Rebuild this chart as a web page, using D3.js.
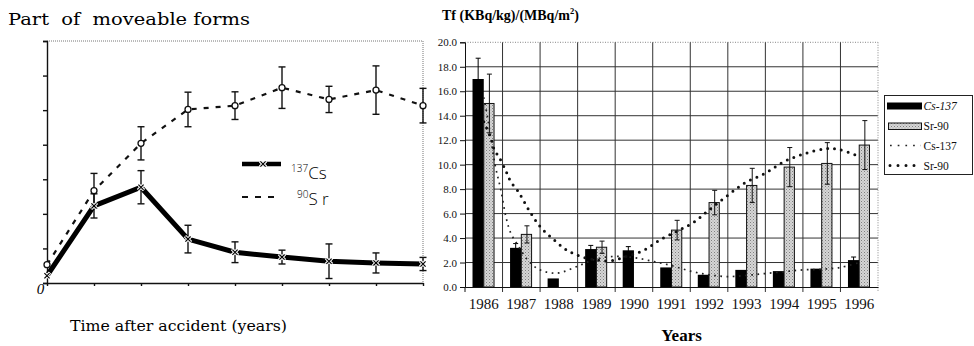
<!DOCTYPE html>
<html><head><meta charset="utf-8">
<script src="https://cdn.jsdelivr.net/npm/d3@7"></script>
<style>
html,body{margin:0;padding:0;background:#fff;}
svg{display:block;}
text{white-space:pre;}
</style></head>
<body>
<svg id="chart" width="974" height="346"></svg>
<script>
// ---------- LEFT PANEL DATA ----------
const leftTimes   = [0, 1, 2, 3, 4, 5, 6, 7, 8];
const leftCs      = [2.1, 22.3, 27.7, 12.7, 8.9, 7.5, 6.3, 5.8, 5.5];
const leftCsErr   = [0, 3.5, 4.8, 4.0, 3.0, 2.0, 5.0, 2.9, 1.9];
const leftSr      = [5.3, 26.7, 40.4, 50.2, 51.3, 56.5, 53.1, 55.8, 51.3];
const leftSrErr   = [0, 5.0, 4.8, 5.0, 4.0, 6.0, 3.8, 7.0, 5.0];
const leftYTicks  = [0, 10, 20, 30, 40, 50, 60, 70];

// ---------- RIGHT PANEL DATA ----------
const years   = [1986, 1987, 1988, 1989, 1990, 1991, 1992, 1993, 1994, 1995, 1996];
const cs137   = [17.0, 3.2, 0.7, 3.1, 3.0, 1.6, 1.0, 1.4, 1.3, 1.5, 2.2];
const cs137Err= [1.7, 0.35, 0, 0.3, 0.3, 0, 0, 0, 0, 0, 0.25];
const sr90    = [15.0, 4.3, 0, 3.25, 0, 4.65, 6.9, 8.3, 9.8, 10.1, 11.6];
const sr90Err = [2.4, 0.7, 0, 0.5, 0, 0.8, 1.0, 1.4, 1.6, 1.7, 2.0];
const rightYTicks = [0, 2, 4, 6, 8, 10, 12, 14, 16, 18, 20];
// trend lines (position in years-index, value)
const csTrendX = [0, 0.12, 0.3, 0.45, 0.6, 0.72, 0.93, 1.17, 1.43, 1.7, 2, 2.5, 3, 3.5, 4, 4.5, 5, 5.5, 6, 6.5, 7, 7.5, 8, 8.5, 9, 9.5, 10];
const csTrendY = [15.5, 13.5, 10.0, 8.0, 5.6, 4.4, 3.3, 2.2, 1.5, 1.2, 1.15, 1.7, 2.3, 2.5, 2.4, 2.1, 1.75, 1.3, 1.0, 0.85, 0.95, 1.1, 1.25, 1.4, 1.45, 1.6, 2.0];
const srTrendX = [0, 0.21, 0.28, 0.41, 0.61, 0.72, 0.92, 1.2, 1.51, 1.87, 2.22, 2.58, 3.0, 3.4, 3.8, 4.26, 4.7, 5.2, 5.6, 6.0, 6.5, 6.95, 7.5, 8.0, 8.55, 9.1, 9.45, 9.9, 10];
const srTrendY = [13.5, 12.0, 11.2, 10.6, 9.35, 8.6, 7.8, 6.3, 4.9, 3.85, 3.0, 2.5, 2.2, 2.15, 2.5, 3.0, 3.85, 4.65, 5.3, 6.3, 7.5, 8.5, 9.3, 10.25, 10.9, 11.3, 11.25, 10.8, 10.7];

const svg = d3.select('#chart');
const serif = '"Liberation Serif","Times New Roman",serif';
const wideSerif = '"DejaVu Serif",serif';
const sans = '"Open Sans","DejaVu Sans",sans-serif';

// =============== LEFT PANEL ===============
const L = {x0: 47, x1: 423, y0: 283, y1: 41};
const lx = d3.scaleLinear().domain([0, 8]).range([L.x0, L.x1]);
const ly = d3.scaleLinear().domain([0, 70]).range([L.y0, L.y1]);
const lg = svg.append('g');

lg.append('text').attr('x', 8).attr('y', 25).attr('font-family', wideSerif).attr('font-size', 17)
  .attr('textLength', 242).attr('lengthAdjust', 'spacingAndGlyphs').text('Part  of  moveable forms');

// frame dotted top/right
lg.append('line').attr('x1', L.x0).attr('x2', L.x1).attr('y1', L.y1).attr('y2', L.y1)
  .attr('stroke', '#777').attr('stroke-width', 1).attr('stroke-dasharray', '1,1');
lg.append('line').attr('x1', L.x1).attr('x2', L.x1).attr('y1', L.y1).attr('y2', L.y0)
  .attr('stroke', '#777').attr('stroke-width', 1).attr('stroke-dasharray', '1,1');

// axes
const lyAxis = d3.axisLeft(ly).tickValues(leftYTicks).tickSize(4).tickFormat('');
lg.append('g').attr('transform', `translate(${L.x0},0)`).call(lyAxis)
  .call(g => g.selectAll('line,path').attr('stroke', '#111').attr('stroke-width', 1.4));
const lxAxis = d3.axisBottom(lx).tickValues(leftTimes).tickSize(3).tickSizeOuter(0).tickFormat('');
lg.append('g').attr('transform', `translate(0,${L.y0})`).call(lxAxis)
  .call(g => g.selectAll('line,path').attr('stroke', '#111').attr('stroke-width', 1.4));
lg.append('text').attr('x', 40.5).attr('y', 294).attr('text-anchor', 'middle')
  .attr('font-family', serif).attr('font-style', 'italic').attr('font-size', 15).text('0');

lg.append('text').attr('x', 70).attr('y', 331).attr('font-family', wideSerif).attr('font-size', 14)
  .attr('textLength', 217).attr('lengthAdjust', 'spacingAndGlyphs').text('Time after accident (years)');

function errBars(g, xs, ys, es, xf, yf, cap) {
  xs.forEach((t, i) => {
    if (!es[i]) return;
    const x = xf(t), yt = yf(ys[i] + es[i]), yb = yf(ys[i] - es[i]);
    g.append('line').attr('x1', x).attr('x2', x).attr('y1', yt).attr('y2', yb).attr('stroke', '#111').attr('stroke-width', 1.4);
    g.append('line').attr('x1', x - cap).attr('x2', x + cap).attr('y1', yt).attr('y2', yt).attr('stroke', '#111').attr('stroke-width', 1.4);
    g.append('line').attr('x1', x - cap).attr('x2', x + cap).attr('y1', yb).attr('y2', yb).attr('stroke', '#111').attr('stroke-width', 1.4);
  });
}

// Sr dashed
const srLine = d3.line().x((d, i) => lx(leftTimes[i])).y(d => ly(d));
lg.append('path').attr('d', srLine(leftSr)).attr('fill', 'none').attr('stroke', '#111')
  .attr('stroke-width', 2.2).attr('stroke-dasharray', '5,7');
errBars(lg, leftTimes, leftSr, leftSrErr, lx, ly, 3.5);
lg.selectAll('circle.sr').data(leftSr).join('circle').attr('class', 'sr')
  .attr('cx', (d, i) => lx(leftTimes[i])).attr('cy', d => ly(d)).attr('r', 3)
  .attr('fill', '#fff').attr('stroke', '#111').attr('stroke-width', 1.3);

// Cs thick
lg.append('path').attr('d', srLine(leftCs)).attr('fill', 'none').attr('stroke', '#000')
  .attr('stroke-width', 5);
errBars(lg, leftTimes, leftCs, leftCsErr, lx, ly, 3.5);
function xMark(g, x, y) {
  g.append('path').attr('d', `M${x-3},${y-3}L${x+3},${y+3}M${x-3},${y+3}L${x+3},${y-3}`)
    .attr('stroke', '#fff').attr('stroke-width', 3.2);
  g.append('path').attr('d', `M${x-2.6},${y-2.6}L${x+2.6},${y+2.6}M${x-2.6},${y+2.6}L${x+2.6},${y-2.6}`)
    .attr('stroke', '#000').attr('stroke-width', 1.2);
}
leftCs.forEach((d, i) => xMark(lg, lx(leftTimes[i]), ly(d)));

// left legend
lg.append('line').attr('x1', 242).attr('x2', 281).attr('y1', 164).attr('y2', 164).attr('stroke', '#000').attr('stroke-width', 4.5);
xMark(lg, 263, 164);
const t1 = lg.append('text').attr('x', 291).attr('y', 179).attr('font-family', sans).attr('font-weight', 300);
t1.append('tspan').attr('font-size', 10).attr('dy', -7).text('137');
t1.append('tspan').attr('font-size', 17).attr('dy', 7).text('Cs');
lg.append('line').attr('x1', 242).attr('x2', 278).attr('y1', 197).attr('y2', 197).attr('stroke', '#111')
  .attr('stroke-width', 2.2).attr('stroke-dasharray', '6,7');
const t2 = lg.append('text').attr('x', 297).attr('y', 205).attr('font-family', sans).attr('font-weight', 300);
t2.append('tspan').attr('font-size', 10).attr('dy', -7).text('90');
t2.append('tspan').attr('font-size', 17).attr('dy', 7).text('S r');

// =============== RIGHT PANEL ===============
const R = {x0: 465, x1: 878, y0: 287, y1: 42.3};
const rx = d3.scaleBand().domain(years).range([R.x0, R.x1]).padding(0);
const bw = rx.bandwidth();
const rxi = d3.scaleLinear().domain([0, years.length - 1]).range([rx(years[0]) + bw / 2, rx(years[years.length - 1]) + bw / 2]);
const ry = d3.scaleLinear().domain([0, 20]).range([R.y0, R.y1]);
const sub = d3.scaleBand().domain(['cs', 'sr']).range([bw * 0.2, bw * 0.8]);
const rg = svg.append('g');

const defs = svg.append('defs');
const pat = defs.append('pattern').attr('id', 'stip').attr('patternUnits', 'userSpaceOnUse').attr('width', 3).attr('height', 3);
pat.append('rect').attr('width', 3).attr('height', 3).attr('fill', '#d6d6d6');
pat.append('rect').attr('x', 0).attr('y', 0).attr('width', 1).attr('height', 1).attr('fill', '#808080');
pat.append('rect').attr('x', 1.5).attr('y', 1.5).attr('width', 1).attr('height', 1).attr('fill', '#a0a0a0');

rg.append('text').attr('x', 442).attr('y', 20).attr('font-family', serif).attr('font-weight', 'bold').attr('font-size', 14)
  .call(t => {
    t.append('tspan').text('Tf (KBq/kg)/(MBq/m');
    t.append('tspan').attr('font-size', 8.5).attr('dy', -6).text('2');
    t.append('tspan').attr('dy', 6).text(')');
  });

// gridlines
rightYTicks.forEach(v => {
  if (v === 0) return;
  rg.append('line').attr('x1', R.x0).attr('x2', R.x1).attr('y1', ry(v)).attr('y2', ry(v))
    .attr('stroke', v === 20 ? '#888' : '#333').attr('stroke-width', 1)
    .attr('stroke-dasharray', v === 20 ? '1,1.5' : null);
});
years.forEach((yr, i) => {
  if (i === 0) return;
  rg.append('line').attr('x1', rx(yr)).attr('x2', rx(yr)).attr('y1', R.y1).attr('y2', R.y0 + 5)
    .attr('stroke', '#333').attr('stroke-width', 1);
});
rg.append('line').attr('x1', R.x1).attr('x2', R.x1).attr('y1', R.y1).attr('y2', R.y0 + 5)
  .attr('stroke', '#888').attr('stroke-width', 1).attr('stroke-dasharray', '1,1.5');

// bars
rg.selectAll('rect.cs').data(cs137).join('rect').attr('class', 'cs')
  .attr('x', (d, i) => rx(years[i]) + sub('cs')).attr('width', sub.bandwidth())
  .attr('y', d => ry(d)).attr('height', d => ry(0) - ry(d)).attr('fill', '#000');
rg.selectAll('rect.sr').data(sr90).join('rect').attr('class', 'sr')
  .attr('x', (d, i) => rx(years[i]) + sub('sr')).attr('width', sub.bandwidth() - 1)
  .attr('y', d => ry(d)).attr('height', d => ry(0) - ry(d))
  .attr('fill', 'url(#stip)').attr('stroke', d => d > 0 ? '#111' : 'none').attr('stroke-width', 1);

function rErr(vals, errs, key) {
  vals.forEach((v, i) => {
    if (!errs[i]) return;
    const x = rx(years[i]) + sub(key) + sub.bandwidth() / 2;
    const yt = ry(v + errs[i]), yb = ry(v - errs[i]);
    const col = key === 'cs' ? '#000' : '#111';
    rg.append('line').attr('x1', x).attr('x2', x).attr('y1', yt).attr('y2', yb).attr('stroke', col).attr('stroke-width', 1);
    rg.append('line').attr('x1', x - 2.5).attr('x2', x + 2.5).attr('y1', yt).attr('y2', yt).attr('stroke', col).attr('stroke-width', 1);
    rg.append('line').attr('x1', x - 2.5).attr('x2', x + 2.5).attr('y1', yb).attr('y2', yb).attr('stroke', col).attr('stroke-width', 1);
  });
}
rErr(cs137, cs137Err, 'cs');
rErr(sr90, sr90Err, 'sr');

// trend lines
const trend = d3.line().x(d => rxi(d[0])).y(d => ry(d[1])).curve(d3.curveCatmullRom);
rg.append('path').attr('d', trend(csTrendX.map((x, i) => [x, csTrendY[i]]))).attr('fill', 'none')
  .attr('stroke', '#222').attr('stroke-width', 1.7).attr('stroke-dasharray', '1.7,4.5');
rg.append('path').attr('d', trend(srTrendX.map((x, i) => [x, srTrendY[i]]))).attr('fill', 'none')
  .attr('stroke', '#111').attr('stroke-width', 3).attr('stroke-linecap', 'round').attr('stroke-dasharray', '0,7');

// axes
const ryAxis = d3.axisLeft(ry).tickValues(rightYTicks).tickSize(5).tickPadding(3).tickFormat(d3.format('.1f'));
rg.append('g').attr('transform', `translate(${R.x0},0)`).call(ryAxis)
  .call(g => g.select('.domain').attr('stroke', '#111'))
  .call(g => g.selectAll('line').attr('stroke', '#111'))
  .call(g => g.selectAll('text').attr('font-family', serif).attr('font-size', 11).attr('fill', '#111'));
const rxAxis = d3.axisBottom(rx).tickSize(0).tickPadding(11);
rg.append('g').attr('transform', `translate(0,${R.y0})`).call(rxAxis)
  .call(g => g.select('.domain').attr('stroke', '#111').attr('stroke-width', 1.2))
  .call(g => g.selectAll('text').attr('font-family', serif).attr('font-size', 15).attr('fill', '#111'));
rg.append('line').attr('x1', R.x0).attr('x2', R.x0).attr('y1', R.y0).attr('y2', R.y0 + 5).attr('stroke', '#111');

rg.append('text').attr('x', (R.x0 + R.x1) / 2 + 10).attr('y', 341).attr('text-anchor', 'middle')
  .attr('font-family', serif).attr('font-weight', 'bold').attr('font-size', 17).text('Years');

// legend
const lgd = rg.append('g');
lgd.append('rect').attr('x', 884.5).attr('y', 95.5).attr('width', 88).attr('height', 79)
  .attr('fill', '#fff').attr('stroke', '#222').attr('stroke-width', 1);
lgd.append('rect').attr('x', 887).attr('y', 102.5).attr('width', 35).attr('height', 7).attr('fill', '#000');
lgd.append('rect').attr('x', 888.5).attr('y', 123).attr('width', 33).attr('height', 6.5)
  .attr('fill', 'url(#stip)').attr('stroke', '#111').attr('stroke-width', 1);
lgd.append('line').attr('x1', 890).attr('x2', 921).attr('y1', 145.5).attr('y2', 145.5)
  .attr('stroke', '#222').attr('stroke-width', 1.7).attr('stroke-dasharray', '1.7,6');
lgd.append('line').attr('x1', 890).attr('x2', 921).attr('y1', 165.5).attr('y2', 165.5)
  .attr('stroke', '#111').attr('stroke-width', 3).attr('stroke-linecap', 'round').attr('stroke-dasharray', '0,8');
const legTexts = [['Cs-137', 110, true], ['Sr-90', 130, false], ['Cs-137', 149.5, false], ['Sr-90', 169.5, false]];
legTexts.forEach(([t, y, it]) => lgd.append('text').attr('x', 923.5).attr('y', y).attr('font-family', serif)
  .attr('font-size', 11.5).attr('font-style', it ? 'italic' : 'normal').attr('fill', '#111').text(t));
</script>
</body></html>
